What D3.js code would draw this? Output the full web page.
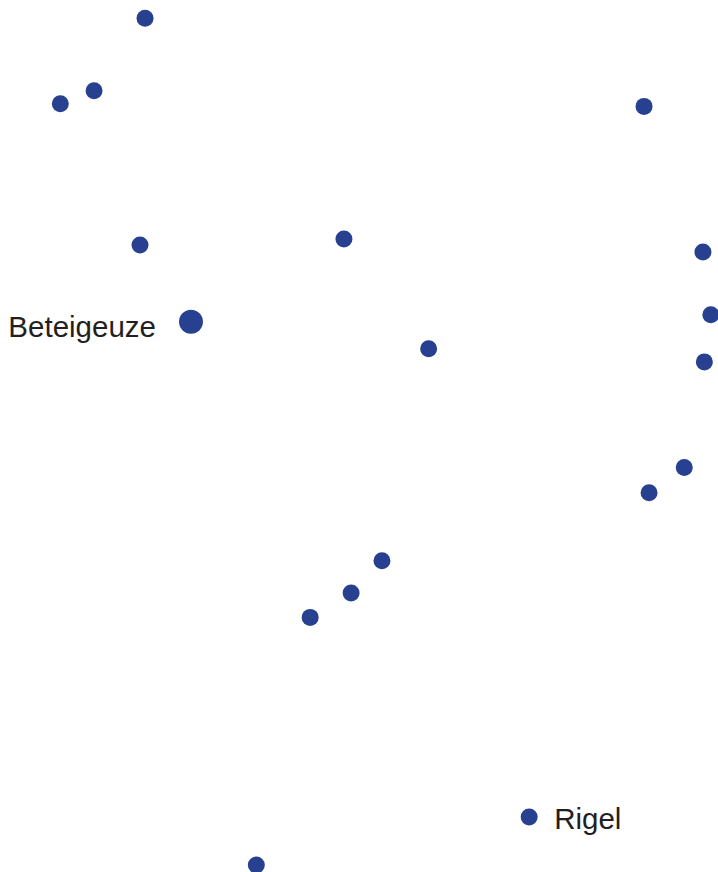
<!DOCTYPE html>
<html><head><meta charset="utf-8">
<script src="https://cdn.jsdelivr.net/npm/d3@7"></script>
<style>html,body{margin:0;padding:0;background:#fff;}svg{display:block;}</style>
</head><body>
<svg id="chart" width="718" height="872"></svg>
<script>
const names = ["","","","","","","","","","Beteigeuze","","","","","","","Rigel",""];
const xs = [20.2,13.1,8.4,89.7,19.5,47.9,97.9,99.0,98.1,26.6,59.7,95.3,90.4,53.2,48.9,43.2,73.7,35.7];
const ys = [2.1,10.4,11.9,12.2,28.1,27.4,28.9,36.1,41.5,36.9,40.0,53.6,56.5,64.3,68.0,70.8,93.7,99.2];
const big = [0,0,0,0,0,0,0,0,0,1,0,0,0,0,0,0,0,0];

const W = 718, H = 872;
const svg = d3.select("#chart");
const x = d3.scaleLinear().domain([0,100]).range([0,W]);
const y = d3.scaleLinear().domain([0,100]).range([0,H]);
const data = xs.map((v,i)=>({x:v,y:ys[i],name:names[i],big:big[i]}));

svg.selectAll("circle").data(data).join("circle")
  .attr("cx",d=>x(d.x)).attr("cy",d=>y(d.y))
  .attr("r",d=>d.big?12:8.5)
  .attr("fill","#27408f");

const lab = data.filter(d=>d.name);
svg.selectAll("text").data(lab).join("text")
  .attr("x",d=>d.name==="Rigel"? x(d.x)+25 : x(d.x)-35)
  .attr("y",d=>y(d.y)+(d.name==="Rigel"?11.5:15))
  .attr("text-anchor",d=>d.name==="Rigel"?"start":"end")
  .attr("font-family","Liberation Sans, Arial, sans-serif")
  .attr("font-size",29.5)
  .attr("fill","#231f20")
  .text(d=>d.name);
</script>
</body></html>
